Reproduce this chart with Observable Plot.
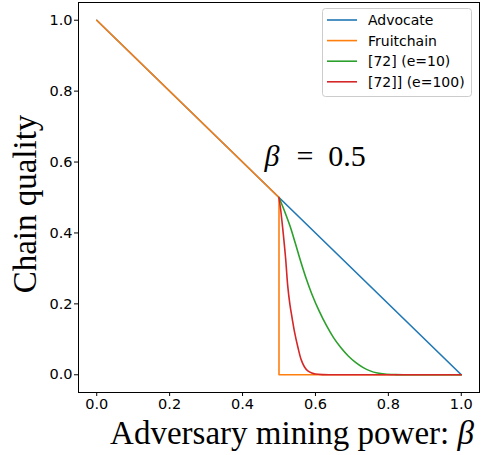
<!DOCTYPE html>
<html>
<head>
<meta charset="utf-8">
<script src="https://cdn.jsdelivr.net/npm/d3@7"></script>
<script src="https://cdn.jsdelivr.net/npm/@observablehq/plot@0.6"></script>
<style>
  html, body { margin: 0; padding: 0; background: #fff; overflow: hidden; }
  #chart { position: relative; width: 483px; height: 455px; }
</style>
</head>
<body>
<div id="chart"></div>
<script>
// ---- data ----
const seriesNames = ["Advocate", "Fruitchain", "[72] (e=10)", "[72]] (e=100)"];
const seriesColors = ["#1f77b4", "#ff7f0e", "#2ca02c", "#d62728"];

const advocateX = [0, 1];
const advocateY = [1, 0];

const fruitX = [0, 0.5, 0.5, 1];
const fruitY = [1, 0.5, 0, 0];

const e10X = [0.5, 0.515, 0.53, 0.545, 0.56, 0.575, 0.59, 0.61, 0.63, 0.65, 0.67, 0.69, 0.71, 0.73, 0.75, 0.77, 0.79, 0.82, 0.86, 1.0];
const e10Y = [0.5, 0.462, 0.42, 0.37, 0.318, 0.27, 0.228, 0.18, 0.139, 0.104, 0.076, 0.053, 0.035, 0.021, 0.011, 0.005, 0.002, 0.0005, 0, 0];

const e100X = [0.5, 0.505, 0.51, 0.518, 0.524, 0.53, 0.536, 0.542, 0.552, 0.561, 0.57, 0.579, 0.59, 0.6, 0.62, 0.65, 1.0];
const e100Y = [0.5, 0.462, 0.415, 0.33, 0.25, 0.198, 0.16, 0.124, 0.077, 0.042, 0.022, 0.011, 0.005, 0.002, 0.0003, 0, 0];

const xTicks = [0, 0.2, 0.4, 0.6, 0.8, 1.0];
const yTicks = [0, 0.2, 0.4, 0.6, 0.8, 1.0];

const xLabel = "Adversary mining power: ";
const yLabel = "Chain quality";
const annotation = { x: 0.46, y: 0.59, sym: "β", rest: "\u2002=\u20020.5" };

// ---- build tables ----
const toRows = (xs, ys, s) => xs.map((x, i) => ({ x, y: ys[i], s }));
const rows = [
  toRows(advocateX, advocateY, seriesNames[0]),
  toRows(fruitX, fruitY, seriesNames[1]),
  toRows(e10X, e10Y, seriesNames[2]),
  toRows(e100X, e100Y, seriesNames[3])
];

const W = 483, H = 455;
const mL = 78, mR = 4, mT = 2, mB = 63;

const plot = Plot.plot({
  width: W,
  height: H,
  marginLeft: mL,
  marginRight: mR,
  marginTop: mT,
  marginBottom: mB,
  style: { fontFamily: "DejaVu Sans", fontSize: "14.5px", color: "black", background: "white" },
  x: { domain: [-0.05, 1.05] },
  y: { domain: [-0.05, 1.05] },
  marks: [
    Plot.axisX({ ticks: xTicks, tickFormat: d3.format(".1f"), tickSize: 4, tickPadding: 2, label: null, fontSize: 14.5 }),
    Plot.axisY({ ticks: yTicks, tickFormat: d3.format(".1f"), tickSize: 4, tickPadding: 2, label: null, fontSize: 14.5 }),
    ...rows.map((r, i) => Plot.line(r, { x: "x", y: "y", stroke: seriesColors[i], strokeWidth: 1.6, curve: i >= 2 ? "catmull-rom" : "linear" })),
    Plot.text([annotation], { x: "x", y: "y", text: "sym", textAnchor: "start", lineAnchor: "bottom", fontSize: 30, fontFamily: "Liberation Serif", fontStyle: "italic", fill: "black" }),
    Plot.text([annotation], { x: "x", y: "y", text: "rest", textAnchor: "start", lineAnchor: "bottom", dx: 17, fontSize: 30, fontFamily: "Liberation Serif", fill: "black" }),
    Plot.frame({ stroke: "black", strokeWidth: 1 })
  ]
});

document.getElementById("chart").appendChild(plot);

// ---- axis titles and legend ----
const svg = d3.select(plot);

const xt = svg.append("text")
  .attr("x", 292).attr("y", 444)
  .attr("text-anchor", "middle")
  .attr("font-family", "Liberation Serif")
  .attr("font-size", 33)
  .attr("fill", "black");
xt.append("tspan").text(xLabel);
xt.append("tspan").attr("font-style", "italic").text("β");

svg.append("text")
  .attr("transform", "translate(36,204) rotate(-90)")
  .attr("text-anchor", "middle")
  .attr("font-family", "Liberation Serif")
  .attr("font-size", 33)
  .attr("fill", "black")
  .text(yLabel);

const lg = svg.append("g");
lg.append("rect")
  .attr("x", 322.5).attr("y", 8.5).attr("width", 149).attr("height", 88)
  .attr("rx", 3).attr("fill", "white").attr("fill-opacity", 0.8)
  .attr("stroke", "#cccccc").attr("stroke-width", 1);
seriesNames.forEach((name, i) => {
  const cy = 20 + i * 20.6;
  lg.append("line")
    .attr("x1", 327).attr("x2", 357).attr("y1", cy).attr("y2", cy)
    .attr("stroke", seriesColors[i]).attr("stroke-width", 1.6);
  lg.append("text")
    .attr("x", 368).attr("y", cy).attr("dy", "0.35em")
    .attr("text-anchor", "start")
    .attr("font-family", "DejaVu Sans").attr("font-size", 14)
    .attr("fill", "black")
    .text(name);
});
</script>
</body>
</html>
